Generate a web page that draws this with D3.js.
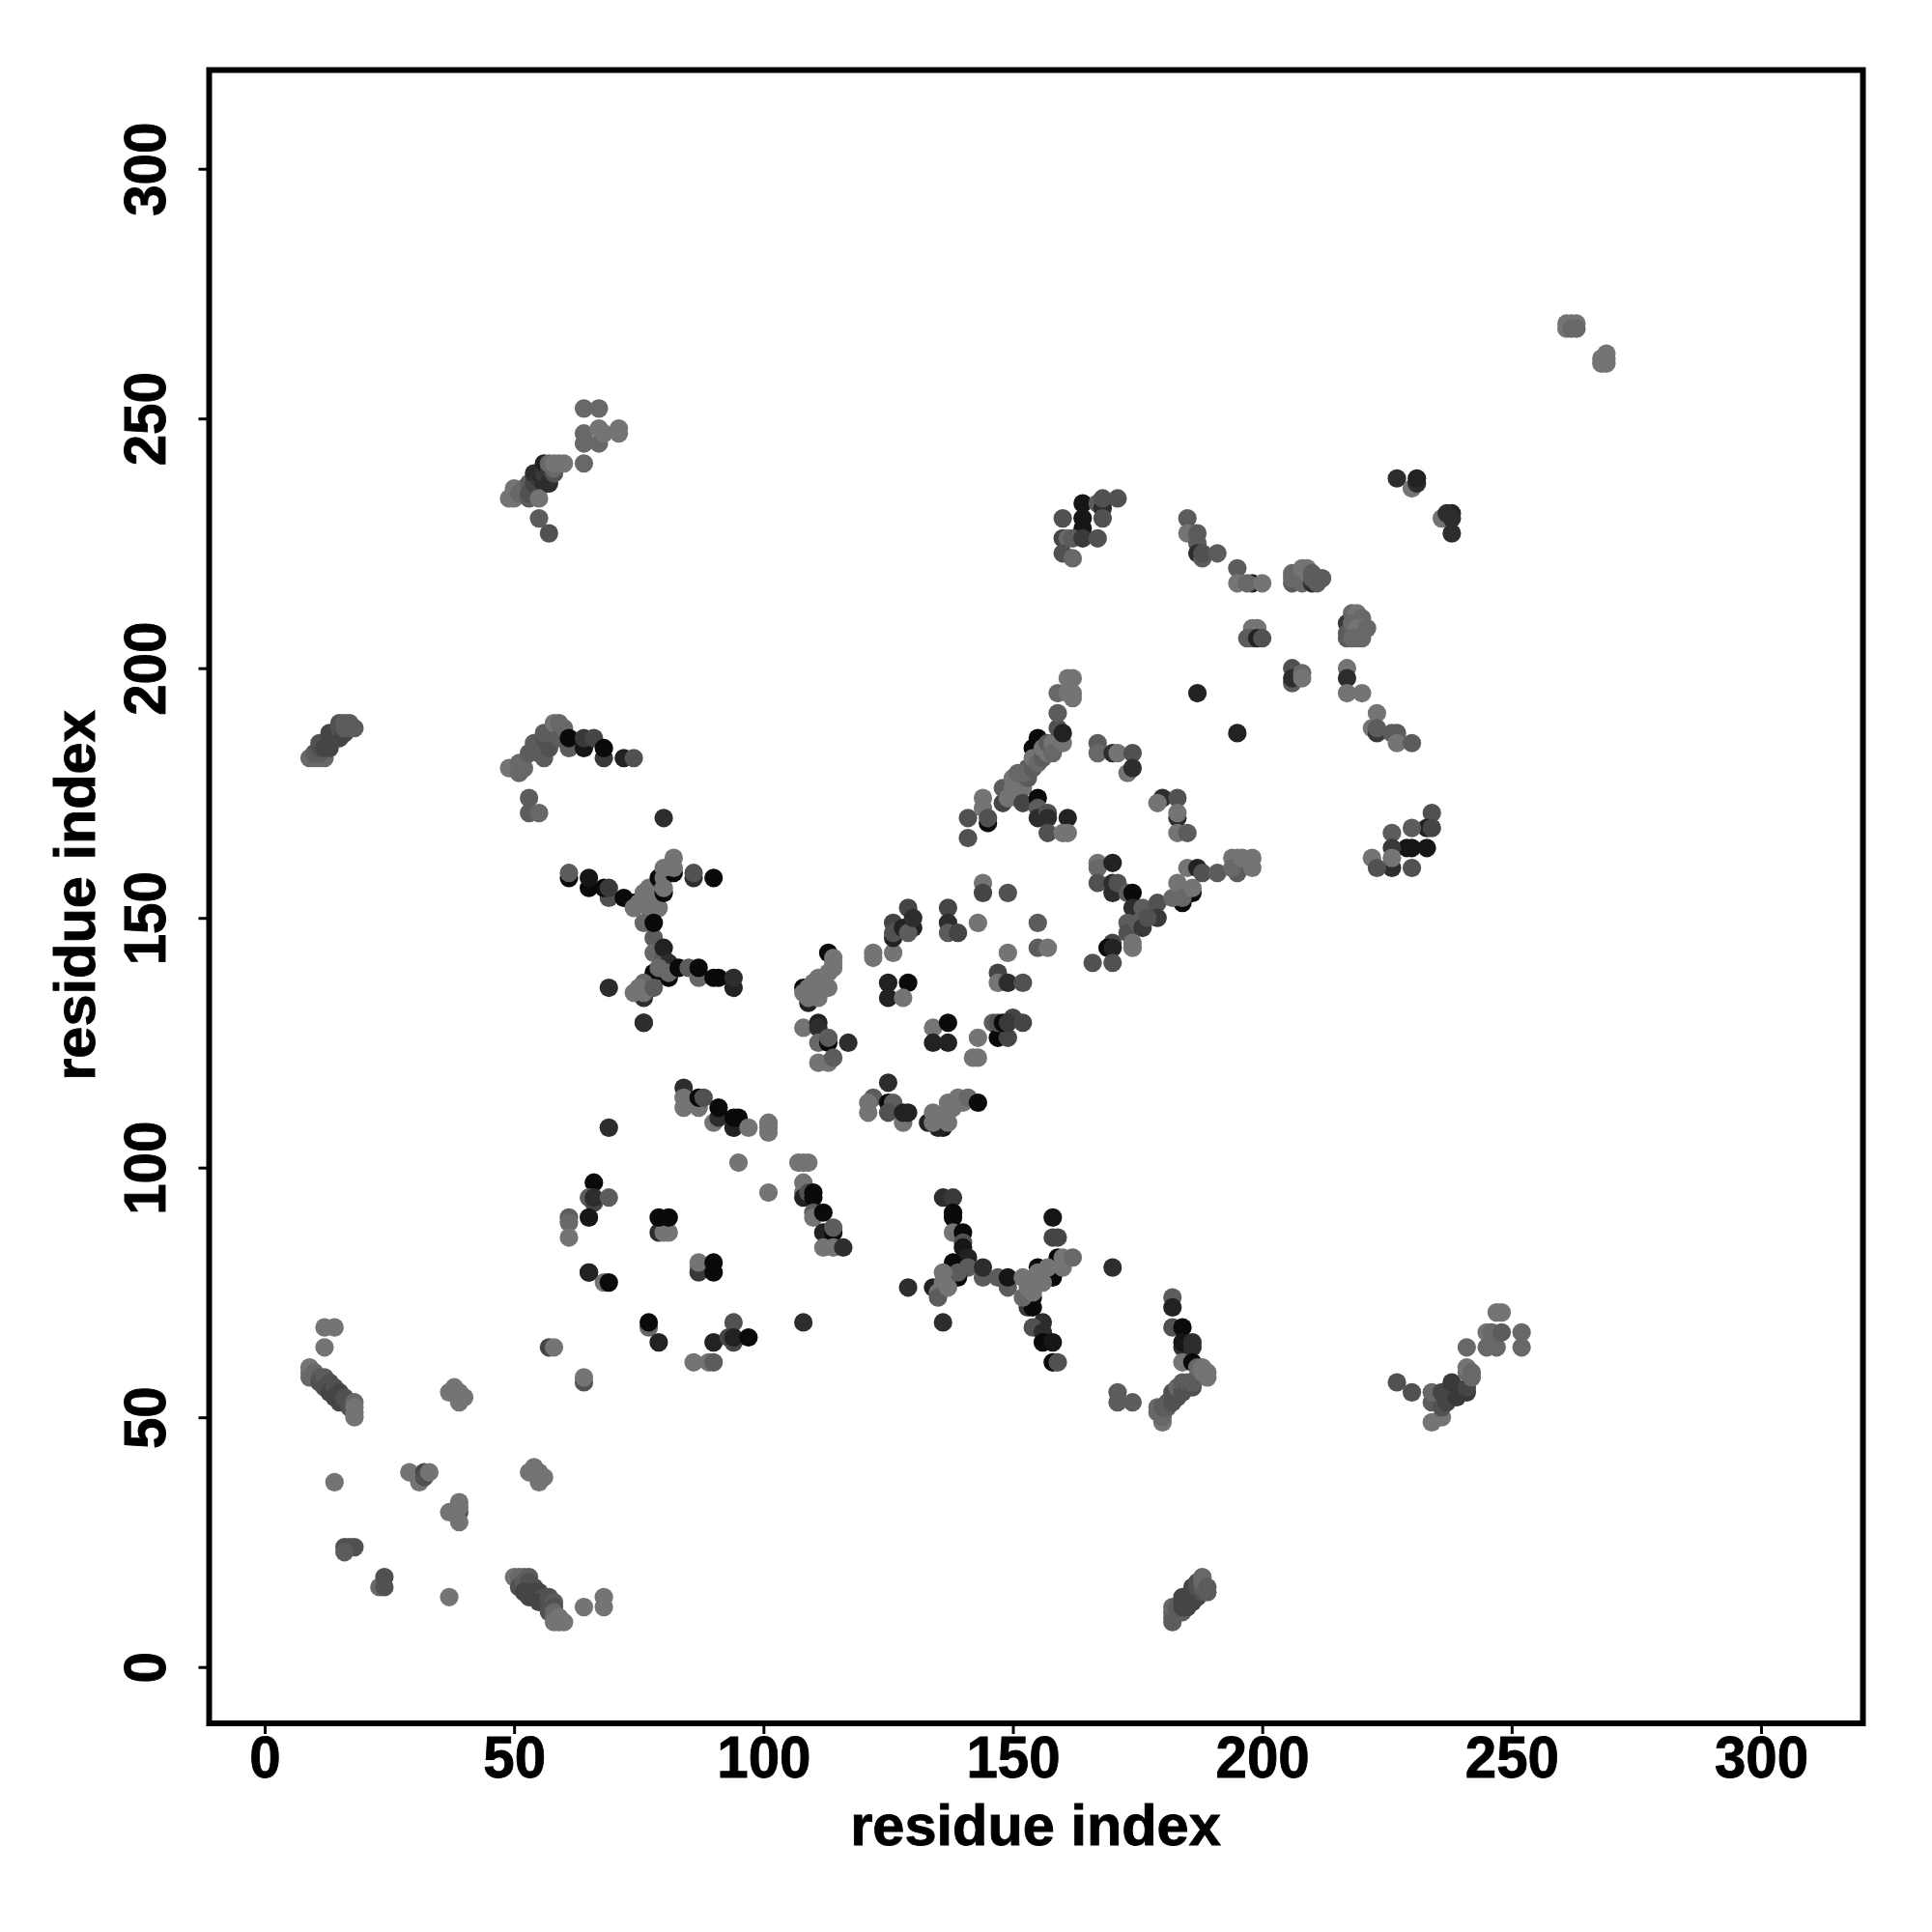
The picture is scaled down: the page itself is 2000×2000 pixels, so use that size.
<!DOCTYPE html>
<html><head><meta charset="utf-8">
<script src="https://cdn.jsdelivr.net/npm/d3@7/dist/d3.min.js"></script>
<style>html,body{margin:0;background:#fff}svg{display:block}text{font-family:"Liberation Sans",Arial,sans-serif;font-weight:700;fill:#000}</style>
</head><body><div id="chart"></div>
<script>
// [residue x, residue y, shade 0 (black) .. 9 (lightest)]
const lowerLeft = [[12,68,9],[14,68,9],[12,64,9],[9,60,9],[9,59,9],[9,58,8],[10,59,8],[11,58,7],[11,57,6],[12,58,7],[12,56,6],[13,57,6],[13,55,5],[14,56,6],[14,54,5],[15,55,5],[15,53,5],[16,54,6],[17,52,6],[18,53,8],[18,52,9],[18,51,9],[18,50,9],
[38,56,9],[37,55,9],[38,55,9],[39,55,9],[39,54,9],[40,54,9],[39,53,9],[14,37,9],[29,39,9],[31,38,9],[31,37,9],[32,39,5],[32,38,6],[33,39,9],
[54,40,9],[53,39,9],[54,39,9],[55,39,9],[55,38,9],[56,38,9],[55,37,9],[39,31,6],[37,31,9],[38,31,9],[39,33,9],[39,32,9],[39,29,9],
[16,24,6],[17,24,6],[18,24,6],[16,23,7],[23,16,8],[24,18,6],[24,16,6],[37,14,9]];
const lowerMiddle = [[50,18,9],[51,18,8],[52,18,8],[53,18,7],[51,16,6],[52,17,7],[53,17,6],[54,16,6],[52,15,5],[54,15,5],[53,14,5],[55,15,5],[56,14,6],[55,13,5],[56,13,5],[57,14,6],[57,12,6],[58,13,7],[58,12,6],[57,11,6],[58,11,8],[58,10,8],[58,9,9],[59,10,9],[59,9,9],[60,9,9],
[64,12,9],[68,14,9],[68,12,9],[64,57,6],[64,58,9],[57,64,5],[58,64,9],[65,79,2],[68,77,9],[69,77,0],[77,68,8],[77,69,0],[79,65,2],[86,61,9],[89,61,9],[90,61,7],[90,65,2],[87,80,9],[87,79,4],[87,81,9],[90,79,0],[90,81,0],[94,69,6],[93,66,5],[94,65,5],[94,66,2],[97,66,0]];
const helixContacts = [[69,108,3],[76,129,3],[84,116,3],[84,114,9],[84,112,9],[87,112,9],[87,114,0],[88,114,6],[90,109,9],[91,110,3],[91,112,0],[94,108,2],[94,110,0],[95,110,0],[97,108,9],[101,109,9],[101,108,9],[101,107,9],[95,101,9],[107,101,9],[108,101,9],[109,101,9],[101,95,9],[108,97,9],[108,95,9],[108,94,2],[109,95,6],[110,95,0],[110,94,0],[110,91,7],[110,90,9],[112,91,0],[112,87,2],[114,87,0],[114,88,7],[112,84,9],[114,84,9],[116,84,3],
[66,97,0],[65,94,7],[66,93,5],[66,94,3],[69,94,7],[65,90,1],[61,90,7],[61,89,8],[61,86,9],[79,87,3],[80,87,9],[81,87,9],[79,90,0],[81,90,0],[65,79,2],[108,69,3]];
const crossLower = [[136,94,3],[138,94,4],[138,91,0],[138,90,0],[138,87,9],[140,87,0],[140,85,6],[140,84,1],[141,82,2],[136,69,3],[129,76,3],[134,76,2],[138,81,0],[141,80,7],[139,78,0],[139,79,7],[136,79,9],[136,77,9],[135,75,9],[135,74,7],[137,76,9],[144,78,7],[144,80,3],[147,78,7],[149,76,7],[149,78,1],
[153,72,4],[154,72,0],[154,74,0],[152,74,8],[153,76,9],[152,78,9],[154,75,9],[154,77,9],[156,69,3],[154,68,6],[156,67,3],[156,65,0],[158,65,1],[158,61,0],[159,61,6],[158,90,1],[158,86,5],[159,86,5],[155,80,0],[158,78,0],[159,82,0],[155,79,9],[156,77,9],[157,80,9],[160,80,9],[160,82,9],[162,82,8],[170,80,3]];
const crossUpper = [[61,158,0],[61,159,7],[65,156,0],[65,158,1],[69,154,6],[68,156,0],[69,156,4],[72,154,0],[74,153,0],[74,152,9],[75,153,9],[76,153,9],[76,155,9],[78,153,9],[77,154,9],[77,152,9],[79,152,9],[78,155,9],[77,156,9],[80,155,0],[79,158,0],[80,158,9],[80,156,9],[82,159,0],[82,160,9],[80,160,9],[82,162,9],[86,158,3],[86,159,6],[90,158,0],[80,170,3],
[76,149,8],[78,146,7],[78,149,0],[78,143,8],[80,142,7],[80,144,2],[81,141,3],[78,139,0],[81,138,0],[79,140,8],[81,139,8],[83,140,0],[85,140,7],[87,138,8],[87,140,0],[90,138,0],[91,138,0],[94,136,2],[94,138,3],[76,134,3],[74,135,9],[76,137,8],[75,136,9],[76,135,9],[78,136,7],[69,136,3],[76,129,3]];
const sheetLower = [[108,136,0],[109,133,2],[109,134,9],[108,135,9],[109,136,9],[110,137,9],[111,134,9],[111,138,9],[112,137,9],[113,136,9],[113,143,0],[113,139,9],[114,140,9],[114,141,9],[114,142,9],
[108,128,9],[111,129,2],[111,128,3],[111,125,8],[113,125,0],[113,126,7],[117,125,3],[111,121,9],[113,121,9],[114,122,7],
[122,143,9],[122,142,9],[126,143,9],[125,137,2],[129,137,0],[125,134,2],[128,134,9],
[129,152,5],[126,149,5],[126,146,2],[126,147,6],[130,148,2],[128,148,2],[129,147,7],[130,150,3],[137,152,5],[137,149,3],[137,147,7],[139,147,5],[143,149,9],[144,157,9],[144,155,5],[149,155,6],[155,149,7],[155,144,7],[157,144,9],[149,143,9],
[147,139,5],[147,137,9],[149,137,3],[152,137,6],[134,128,9],[137,129,0],[134,125,2],[137,125,2],[143,126,9],[142,122,9],[143,122,9],
[146,129,7],[147,126,0],[149,126,5],[147,129,6],[148,129,0],[150,130,5],[149,129,4],[152,129,5]];
const sheetRing = [[125,117,3],[122,114,7],[121,113,9],[121,111,9],[125,113,0],[126,113,7],[125,111,6],[128,109,9],[128,111,2],[129,111,2],
[133,109,2],[136,108,1],[135,108,2],[134,109,9],[134,111,9],[135,110,9],[137,109,9],[136,110,9],[137,111,9],[137,113,9],[138,112,9],[139,114,9],[140,113,9],[141,114,8],[143,113,0]];
const diagonalMiddle = [[141,170,6],[141,166,6],[144,174,9],[144,172,9],[145,169,0],[145,170,6],[148,176,7],[148,173,5],[150,176,9],[149,174,9],[151,174,9],[152,176,9],[152,173,5],[150,178,9],[151,179,8],[153,178,7],[155,174,0],[155,172,7],[155,170,3],[157,171,6],[157,170,3],[157,167,6],[161,170,2],[160,167,9],[161,167,9],
[180,174,3],[179,173,9],[183,174,6],[183,170,3],[183,171,9],[183,167,9],[185,167,7],[153,180,7],[152,179,8],[154,184,0],[155,186,0],[154,180,7],[154,182,9],[155,181,8],[156,182,7],[156,184,9],[157,183,9],[157,185,7],[158,185,9],[158,183,8],[159,188,6],[159,191,7],[160,185,9],[160,187,2],[159,195,8],[161,195,9],[162,195,9],[162,194,9],[161,198,9],[162,198,9]];
const branchRight = [[167,185,7],[167,183,8],[170,183,3],[171,183,9],[174,183,6],[173,179,9],[174,180,3],
[167,161,9],[167,160,8],[170,161,2],[167,157,6],[170,155,3],[170,157,3],[171,157,6],[173,155,7],[174,155,0],[174,152,3],[176,152,7],[173,149,7],[173,147,6],[175,149,7],[176,148,4],[179,153,6],[179,150,4],[177,150,6],[170,145,5],[169,144,0],[170,144,2],[174,145,9],[174,144,9],[166,141,6],[170,141,6],
[184,153,0],[186,155,0],[182,154,8],[183,157,9],[184,154,8],[186,156,9],[185,160,9],[187,160,2],[188,159,6],[191,159,7],[195,159,7],[194,162,9],[195,162,9],[194,160,8],[196,162,9],[198,162,9],[198,160,9]];
const contactsBelow = [[182,74,7],[182,72,2],[182,68,6],[184,68,0],[184,64,3],[184,65,1],[186,65,3],[186,64,3],[184,61,9],[186,61,0],[171,55,7],[171,53,7],[174,53,7],
[180,49,9],[180,50,8],[179,51,8],[179,52,8],[180,51,8],[181,53,7],[180,52,7],[181,52,7],[182,53,6],[182,55,6],[183,54,6],[183,56,8],[184,55,6],[184,57,7],[185,56,6],[185,57,7],[186,56,6],[186,57,7],[187,58,7],[187,60,8],[188,60,9],[188,59,9],[189,59,9],[189,58,9],
[182,9,7],[182,10,7],[182,11,7],[182,12,8],[183,11,7],[183,12,7],[184,11,7],[184,12,5],[184,13,5],[184,14,5],[185,12,5],[185,14,5],[186,13,5],[186,14,5],[186,15,5],[186,16,5],[187,14,5],[187,16,6],[187,17,6],[188,15,6],[188,16,7],[188,17,8],[188,18,8],[189,15,7],[189,16,7],
[227,57,6],[230,55,6],[234,49,9],[234,53,7],[234,55,8],[236,50,9],[236,52,6],[236,55,5],[237,53,5],[238,57,4],[239,54,4],[241,55,4],[241,56,5],[241,59,8],[241,60,9],[242,58,8],[242,59,8],
[241,64,8],[245,67,9],[245,64,8],[246,67,8],[247,64,8],[247,71,9],[248,71,9],[248,67,7],[252,67,8],[252,64,8]];
const upperLeft = [[64,252,8],[67,252,8],[64,247,8],[64,245,8],[67,248,9],[67,245,8],[68,247,9],[71,248,9],[71,247,9],[64,241,8],
[49,234,9],[50,236,9],[50,234,9],[51,235,8],[52,236,8],[53,237,7],[53,234,7],[53,235,6],[54,235,6],[54,237,5],[55,236,5],[54,239,3],[55,238,4],[55,239,3],[56,237,3],[56,239,4],[55,234,9],[56,241,2],[57,237,3],[57,240,4],[58,239,6],[58,240,8],[57,241,8],[58,241,9],[59,241,9],[60,241,9],[55,230,7],[57,227,6],
[9,182,8],[10,182,8],[11,182,8],[12,182,8],[10,183,7],[11,183,7],[11,184,6],[11,185,6],[12,184,5],[13,184,5],[13,185,5],[13,186,5],[14,186,5],[13,187,5],[14,187,5],[15,186,5],[15,188,6],[15,189,6],[16,187,5],[16,189,7],[17,189,7],[16,188,7],[17,188,7],[18,188,7],
[49,180,9],[51,179,8],[52,180,8],[51,181,8],[53,183,7],[54,185,7],[56,182,7],[55,183,7],[57,184,6],[56,186,6],[56,187,7],[58,189,9],[59,186,7],[60,188,8],[59,189,8],
[61,184,7],[61,186,0],[64,184,1],[64,186,4],[66,186,5],[68,182,4],[68,184,0],[72,182,2],[74,182,6],[53,174,7],[53,171,7],[55,171,8]];
const upperRight = [[261,269,9],[262,269,9],[263,269,9],[261,268,9],[262,268,8],[263,268,8],[268,261,9],[269,261,9],[268,262,9],[269,262,9],[269,263,9],
[227,238,3],[230,236,9],[231,237,3],[231,238,2],[236,230,9],[238,231,2],[237,231,3],[238,230,3],[238,227,3],
[164,233,1],[167,233,7],[168,232,3],[168,234,6],[171,234,6],[160,230,6],[168,230,6],[164,230,1],[164,228,1],[160,226,5],[161,226,8],[162,226,7],[164,226,4],[167,226,6],[160,223,6],[162,222,8],
[185,230,7],[185,227,9],[187,227,7],[187,225,7],[187,223,3],[188,222,7],[188,223,6],[191,223,7],[195,220,7],[195,217,9],[198,217,2],[197,217,8],[200,217,9],
[206,217,7],[206,218,8],[206,219,8],[207,218,8],[208,217,8],[208,220,9],[209,220,9],[209,219,9],[210,217,3],[210,218,7],[210,219,7],[211,218,7],[211,217,7],[212,218,7],
[199,208,9],[198,208,9],[198,206,7],[197,206,7],[199,206,2],[200,206,6],[217,209,4],[217,207,7],[217,206,7],[218,211,8],[219,211,9],[218,209,8],[220,210,8],[219,208,9],[220,208,9],[221,208,8],[218,206,8],[219,206,8],[220,206,8],
[206,200,6],[206,197,7],[206,198,3],[208,199,8],[208,198,9],[217,200,9],[217,198,3],[217,195,9],[220,195,9],[223,191,9],[222,188,9],[223,187,4],[223,188,7],[227,187,7],[226,187,7],[227,185,9],[230,185,7],[187,195,2],[195,187,2],
[234,171,6],[233,168,2],[234,168,5],[230,168,7],[230,164,1],[229,164,1],[233,164,1],[226,167,7],[226,164,4],[226,160,3],[226,162,9],[222,162,9],[223,160,6],[230,160,6]];

const regions = [lowerLeft, lowerMiddle, helixContacts, crossLower, crossUpper, sheetLower, sheetRing, diagonalMiddle, branchRight, contactsBelow, upperLeft, upperRight];
const axisTicks = [0, 50, 100, 150, 200, 250, 300];
const xTitle = "residue index";
const yTitle = "residue index";

const svg = d3.select("#chart").append("svg").attr("width", 2000).attr("height", 2000);
const x = d3.scaleLinear().domain([0, 300]).range([274, 1823]);
const y = d3.scaleLinear().domain([0, 300]).range([1725.7, 174.7]);
const grey = d3.scaleLinear().domain([0, 9]).range([10, 116]);

svg.append("g").selectAll("circle").data(regions.flat()).join("circle")
  .attr("cx", d => x(d[0])).attr("cy", d => y(d[1])).attr("r", 9.6)
  .attr("fill", d => { const g = Math.round(grey(d[2])); return `rgb(${g},${g},${g})`; });

svg.append("rect").attr("x", 216.5).attr("y", 72.5).attr("width", 1712).attr("height", 1711.5)
  .attr("fill", "none").attr("stroke", "#000").attr("stroke-width", 6);

const xAxis = svg.append("g").attr("transform", "translate(0,1784)")
  .call(d3.axisBottom(x).tickValues(axisTicks).tickSize(11));
const yAxis = svg.append("g").attr("transform", "translate(216.5,0)")
  .call(d3.axisLeft(y).tickValues(axisTicks).tickSize(11));
[xAxis, yAxis].forEach(a => {
  a.select(".domain").remove();
  a.selectAll("line").attr("stroke", "#000").attr("stroke-width", 3);
  a.selectAll("text").attr("font-size", 62).style("font-family", '"Liberation Sans"').style("font-weight", 700)
    .attr("fill", "#000").attr("stroke", "#000").attr("stroke-width", 0.9).attr("dy", 0).attr("text-anchor", "middle");
});
xAxis.selectAll("text").attr("x", 0).attr("y", 56).attr("transform", "scale(0.94,1)");
yAxis.selectAll("text").attr("x", 0).attr("y", -45.5).attr("transform", "rotate(-90) scale(0.94,1)");

svg.append("text").attr("x", 1072).attr("y", 1910).attr("text-anchor", "middle").attr("font-size", 59.5).attr("stroke", "#000").attr("stroke-width", 0.9).text(xTitle);
svg.append("text").attr("transform", "translate(98,927) rotate(-90)").attr("text-anchor", "middle").attr("font-size", 59.5).attr("stroke", "#000").attr("stroke-width", 0.9).text(yTitle);
</script></body></html>
